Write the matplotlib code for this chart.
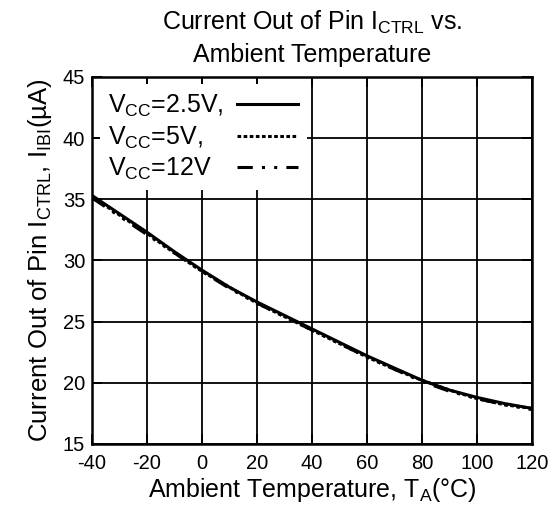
import matplotlib
matplotlib.use("Agg")
import matplotlib.pyplot as plt

plt.rcParams["font.family"] = ["Liberation Sans", "DejaVu Sans"]
plt.rcParams["mathtext.fontset"] = "custom"
plt.rcParams["mathtext.rm"] = "Liberation Sans"
plt.rcParams["mathtext.it"] = "Liberation Sans"
plt.rcParams["axes.unicode_minus"] = False

# temperature points (degC) and current out of pin (uA)
temp = [-40, -30, -20, -10, 0, 10, 20, 30, 40, 50, 60, 70, 80, 90, 100, 110, 120]
i_2v5 = [35.3, 33.8, 32.3, 30.7, 29.2, 27.8, 26.6, 25.5, 24.4, 23.3, 22.2, 21.2, 20.2, 19.4, 18.8, 18.3, 17.9]
i_5v = [35.2, 33.7, 32.2, 30.6, 29.1, 27.8, 26.5, 25.4, 24.3, 23.2, 22.1, 21.1, 20.2, 19.4, 18.7, 18.2, 17.9]
i_12v = [35.1, 33.6, 32.1, 30.6, 29.1, 27.7, 26.5, 25.4, 24.3, 23.2, 22.1, 21.1, 20.1, 19.3, 18.7, 18.2, 17.8]

labels = [r"$\mathrm{V_{CC}}$=2.5V,", r"$\mathrm{V_{CC}}$=5V,", r"$\mathrm{V_{CC}}$=12V"]
styles = ["-", (0, (1.2, 0.8)), (0, (5, 3, 1, 3, 1, 3))]

fig = plt.figure(figsize=(5.58, 5.09), dpi=100)
ax = fig.add_axes([0.165, 0.128, 0.788, 0.721])

for label, vals, ls in zip(labels, [i_2v5, i_5v, i_12v], styles):
    ax.plot(temp, vals, color="black", lw=2.2, ls=ls, label=label)

ax.set_xlim(-40, 120)
ax.set_ylim(15, 45)
ax.set_xticks(range(-40, 121, 20))
ax.set_yticks(range(15, 46, 5))
ax.grid(True, color="black", lw=1.3)
for s in ax.spines.values():
    s.set_linewidth(1.8)
ax.tick_params(direction="in", length=7, width=1.3, labelsize=14.5, top=True, right=True, pad=5)
ax.tick_params(axis="x", pad=7.5)

ax.set_xlabel(r"Ambient Temperature, T$_\mathrm{A}$(°C)", fontsize=18, labelpad=2)
ax.set_ylabel(r"Current Out of Pin I$_\mathrm{CTRL}$, I$_\mathrm{IBI}$(µA)", fontsize=18.5, labelpad=6)
ax.set_title("Current Out of Pin I$_\\mathrm{CTRL}$ vs.\nAmbient Temperature", fontsize=18, pad=11,
             linespacing=1.35)

leg = ax.legend(loc="upper left", fontsize=18, markerfirst=False, handlelength=2.45,
                frameon=True, framealpha=1, edgecolor="none", fancybox=False,
                borderaxespad=0.3, borderpad=0.35, labelspacing=0.2, handletextpad=0.8)
leg.get_frame().set_linewidth(0)
# left-align the labels and keep the line samples lined up on the right
col = leg._legend_handle_box.get_children()[0]
col.align = "left"
for row in col.get_children():
    row.mode = "expand"
    row.width = 190

fig.savefig("out.png", dpi=100)
